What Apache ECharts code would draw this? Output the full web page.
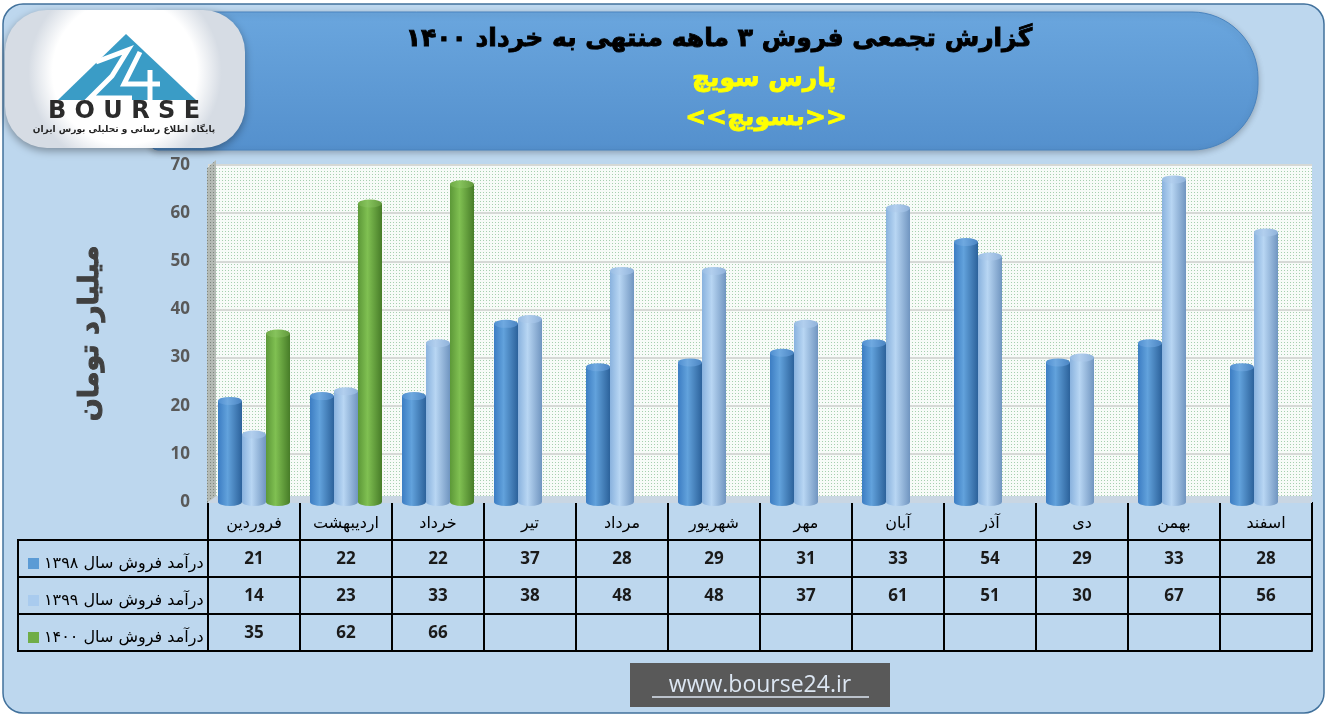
<!DOCTYPE html>
<html><head><meta charset="utf-8">
<script src="https://cdn.jsdelivr.net/npm/echarts@6/dist/echarts.min.js"></script>
<style>html,body{margin:0;padding:0;background:#fff}#c{width:1328px;height:717px}</style>
</head><body><div id="c"></div>
<script>
// ---- data ----
const categories = ['فروردین','اردیبهشت','خرداد','تیر','مرداد','شهریور','مهر','آبان','آذر','دی','بهمن','اسفند'];
const sales1398 = [21,22,22,37,28,29,31,33,54,29,33,28];
const sales1399 = [14,23,33,38,48,48,37,61,51,30,67,56];
const sales1400 = [35,62,66,null,null,null,null,null,null,null,null,null];
const seriesNames = ['درآمد فروش سال ۱۳۹۸','درآمد فروش سال ۱۳۹۹','درآمد فروش سال ۱۴۰۰'];
const yMin = 0, yMax = 70, yInterval = 10;
const titleText = 'گزارش تجمعی فروش ۳ ماهه منتهی به خرداد ۱۴۰۰';
const subTitle1 = 'پارس سویچ';
const subTitle2 = '<<بسویچ>>';
const yAxisName = 'میلیارد تومان';
const siteUrl = 'www.bourse24.ir';

// ---- styling helpers ----
const FA = "'DejaVu Sans', 'Noto Sans', sans-serif";
const NUM = "'Open Sans', 'Lato', sans-serif";
const BAR_W = 24;
function cyl(l, m, r) {
  return new echarts.graphic.LinearGradient(0, 0, 1, 0, [
    {offset: 0, color: l}, {offset: 0.4, color: m}, {offset: 1, color: r}
  ]);
}
const barColors = [
  cyl('#3C7DC3', '#62A2DC', '#2C629B'),
  cyl('#89B2DE', '#B8D6F3', '#7095C0'),
  cyl('#5C9838', '#80C052', '#477C28')
];
const capColors = [
  cyl('#4F8ED0', '#6FA9E0', '#4A84C2'),
  cyl('#98BCE3', '#B2CFEE', '#8FB2DA'),
  cyl('#6EAA46', '#86C35C', '#62993D')
];
const legendColors = ['#5B9BD5', '#A9CBEE', '#70AD47'];

// dotted back-wall pattern
const pc = document.createElement('canvas');
pc.width = 3; pc.height = 3;
const px = pc.getContext('2d');
px.fillStyle = '#F7FBF8'; px.fillRect(0, 0, 3, 3);
px.fillStyle = '#A6CFAF'; px.fillRect(0, 0, 1, 1);
const wallPattern = {image: pc, repeat: 'repeat'};
const sc = document.createElement('canvas');
sc.width = 3; sc.height = 3;
const sx = sc.getContext('2d');
sx.fillStyle = '#B4BAB4'; sx.fillRect(0, 0, 3, 3);
sx.fillStyle = '#7E867E'; sx.fillRect(0, 0, 1, 1);
const sidePattern = {image: sc, repeat: 'repeat'};

const GRID = {left: 208, right: 16, top: 165, bottom: 215};

function tableAxis(vals, offset, showLabels) {
  return {
    type: 'category', data: vals.map(v => v == null ? '' : String(v)),
    position: 'bottom', offset: offset, min: 0, max: vals.length - 1,
    axisLine: {show: true, lineStyle: {color: '#000', width: 2}},
    axisTick: {show: showLabels, length: 37, lineStyle: {color: '#000', width: 2}},
    axisLabel: {show: showLabels, interval: 0, margin: 11, fontSize: 17, fontWeight: 'bold', color: '#1a1a1a', fontFamily: NUM},
    splitLine: {show: false}
  };
}

const chart = echarts.init(document.getElementById('c'), null, {renderer: 'canvas', width: 1328, height: 717});

const mkSeries = (name, data, i) => ({
  name: name, type: 'bar', data: data, xAxisIndex: 0, yAxisIndex: 0,
  barWidth: BAR_W, barGap: '0%',
  itemStyle: {color: barColors[i]},
  z: 5
});
// elliptical caps (top and bottom) of the cylinders; all caps share the category centre
// and are shifted sideways by one bar width per series slot
const mkCap = (name, data, i, atTop) => ({
  name: name, type: 'pictorialBar', data: data, xAxisIndex: 0, yAxisIndex: 0,
  barWidth: BAR_W, barGap: '-100%',
  symbol: 'circle', symbolSize: [BAR_W, 8],
  symbolPosition: atTop ? 'end' : 'start',
  symbolOffset: [(i - 1) * BAR_W, atTop ? '-50%' : '50%'],
  itemStyle: {color: atTop ? capColors[i] : barColors[i]},
  z: atTop ? 6 : 4, silent: true
});

chart.setOption({
  backgroundColor: '#ffffff',
  animation: false,
  grid: Object.assign({show: true, backgroundColor: wallPattern, borderWidth: 0}, GRID),
  legend: {
    orient: 'vertical', left: 23, top: 549,
    itemWidth: 11, itemHeight: 11, itemGap: 18,
    icon: 'rect',
    textStyle: {fontSize: 16, color: '#000', fontFamily: FA, lineHeight: 19},
    data: seriesNames.map((n, i) => ({name: n, itemStyle: {color: legendColors[i]}}))
  },
  xAxis: [
    {
      type: 'category', data: categories, position: 'bottom',
      axisLine: {show: false},
      axisTick: {show: true, length: 38, lineStyle: {color: '#000', width: 2}},
      axisLabel: {interval: 0, margin: 14, fontSize: 16, color: '#000', fontFamily: FA},
      splitLine: {show: false}
    },
    tableAxis(sales1398, 38, true),
    tableAxis(sales1399, 75, true),
    tableAxis(sales1400, 112, true),
    tableAxis(sales1400, 149, false)
  ],
  yAxis: {
    type: 'value', min: yMin, max: yMax, interval: yInterval,
    name: yAxisName, nameLocation: 'middle', nameGap: 104, nameRotate: 90,
    nameTextStyle: {fontSize: 27, fontWeight: 'bold', color: '#404040', fontFamily: FA, textBorderColor: '#404040', textBorderWidth: 1},
    axisLine: {show: false}, axisTick: {show: false},
    axisLabel: {margin: 18, fontSize: 17, fontWeight: 'bold', color: '#595959', fontFamily: NUM},
    splitLine: {lineStyle: {color: '#D6D9D6', width: 2}}
  },
  series: [
    mkSeries(seriesNames[0], sales1398, 0),
    mkSeries(seriesNames[1], sales1399, 1),
    mkSeries(seriesNames[2], sales1400, 2),
    mkCap(seriesNames[0], sales1398, 0, true),
    mkCap(seriesNames[1], sales1399, 1, true),
    mkCap(seriesNames[2], sales1400, 2, true),
    mkCap(seriesNames[0], sales1398, 0, false),
    mkCap(seriesNames[1], sales1399, 1, false),
    mkCap(seriesNames[2], sales1400, 2, false)
  ],
  graphic: [
    // outer frame
    {type: 'rect', z: -100, silent: true,
     shape: {x: 3, y: 4, width: 1321, height: 709, r: 20},
     style: {fill: '#BDD7EE', stroke: '#41719C', lineWidth: 1.5}},
    // title banner
    {type: 'rect', z: -90, silent: true,
     shape: {x: 150, y: 12, width: 1108, height: 138, r: [8, 66, 66, 8]},
     style: {fill: new echarts.graphic.LinearGradient(0, 0, 0, 1, [{offset: 0, color: '#6AA6DE'}, {offset: 1, color: '#5490CD'}]),
             stroke: '#4A84BF', lineWidth: 1, shadowBlur: 6, shadowColor: 'rgba(0,0,0,0.25)', shadowOffsetY: 2}},
    {type: 'text', z: 20, silent: true,
     style: {x: 719, y: 39, text: titleText, fill: '#000', stroke: '#000', lineWidth: 0.9, font: "bold 25px " + FA, align: 'center', verticalAlign: 'middle'}},
    {type: 'text', z: 20, silent: true,
     style: {x: 764, y: 79, text: subTitle1, fill: '#FFFF00', stroke: '#FFFF00', lineWidth: 0.8, font: "bold 25px " + FA, align: 'center', verticalAlign: 'middle'}},
    {type: 'text', z: 20, silent: true,
     style: {x: 766, y: 118, text: subTitle2, fill: '#FFFF00', stroke: '#FFFF00', lineWidth: 0.8, font: "bold 25px " + FA, align: 'center', verticalAlign: 'middle'}},
    // logo
    {type: 'rect', z: 10, silent: true,
     shape: {x: 5, y: 10, width: 240, height: 138, r: 42},
     style: {fill: new echarts.graphic.RadialGradient(0.5, 0.45, 0.7, [{offset: 0, color: '#ffffff'}, {offset: 0.75, color: '#ffffff'}, {offset: 1, color: '#D6DCE4'}]),
             shadowBlur: 8, shadowColor: 'rgba(0,0,0,0.35)', shadowOffsetY: 3}},
    {type: 'polygon', z: 11, silent: true,
     shape: {points: [[126, 34], [58, 100], [196, 100]]},
     style: {fill: '#3A9CC6'}},
    {type: 'polyline', z: 12, silent: true,
     shape: {points: [[96, 62], [128, 50], [112, 76], [90, 98], [132, 98]]},
     style: {stroke: '#fff', lineWidth: 5, fill: null}},
    {type: 'polyline', z: 12, silent: true,
     shape: {points: [[140, 52], [124, 84], [160, 84]]},
     style: {stroke: '#fff', lineWidth: 5, fill: null}},
    {type: 'polyline', z: 12, silent: true,
     shape: {points: [[150, 70], [150, 100]]},
     style: {stroke: '#fff', lineWidth: 5, fill: null}},
    {type: 'text', z: 12, silent: true,
     style: {x: 124, y: 112, text: 'B O U R S E', fill: '#2B2B2B', font: "bold 24px 'DejaVu Sans', sans-serif", align: 'center', verticalAlign: 'middle'}},
    {type: 'text', z: 12, silent: true,
     style: {x: 124, y: 130, text: 'پایگاه اطلاع رسانی و تحلیلی بورس ایران', fill: '#222', font: "bold 9px " + FA, align: 'center', verticalAlign: 'middle'}},
    // 3D side wall and floor of the plot
    {type: 'polygon', z: 1, silent: true,
     shape: {points: [[207, 168], [216, 160], [216, 497], [207, 503]]},
     style: {fill: sidePattern}},
    {type: 'polygon', z: 1, silent: true,
     shape: {points: [[207, 503], [216, 496], [1312, 496], [1312, 503]]},
     style: {fill: '#C9D6E3'}},
    // legend column of the table
    {type: 'rect', z: 6, silent: true,
     shape: {x: 18, y: 540, width: 190, height: 111},
     style: {fill: null, stroke: '#000', lineWidth: 2}},
    {type: 'line', z: 6, silent: true, shape: {x1: 18, y1: 577, x2: 208, y2: 577}, style: {stroke: '#000', lineWidth: 2}},
    {type: 'line', z: 6, silent: true, shape: {x1: 18, y1: 614, x2: 208, y2: 614}, style: {stroke: '#000', lineWidth: 2}},
    // site url
    {type: 'rect', z: 6, silent: true,
     shape: {x: 630, y: 663, width: 260, height: 44},
     style: {fill: '#595959'}},
    {type: 'text', z: 7, silent: true,
     style: {x: 760, y: 685, text: siteUrl, fill: '#DCE6F2', font: "23px 'Open Sans', sans-serif", align: 'center', verticalAlign: 'middle'}},
    {type: 'line', z: 7, silent: true, shape: {x1: 652, y1: 697, x2: 869, y2: 697}, style: {stroke: '#DCE6F2', lineWidth: 1.5}}
  ]
});
</script>
</body></html>
